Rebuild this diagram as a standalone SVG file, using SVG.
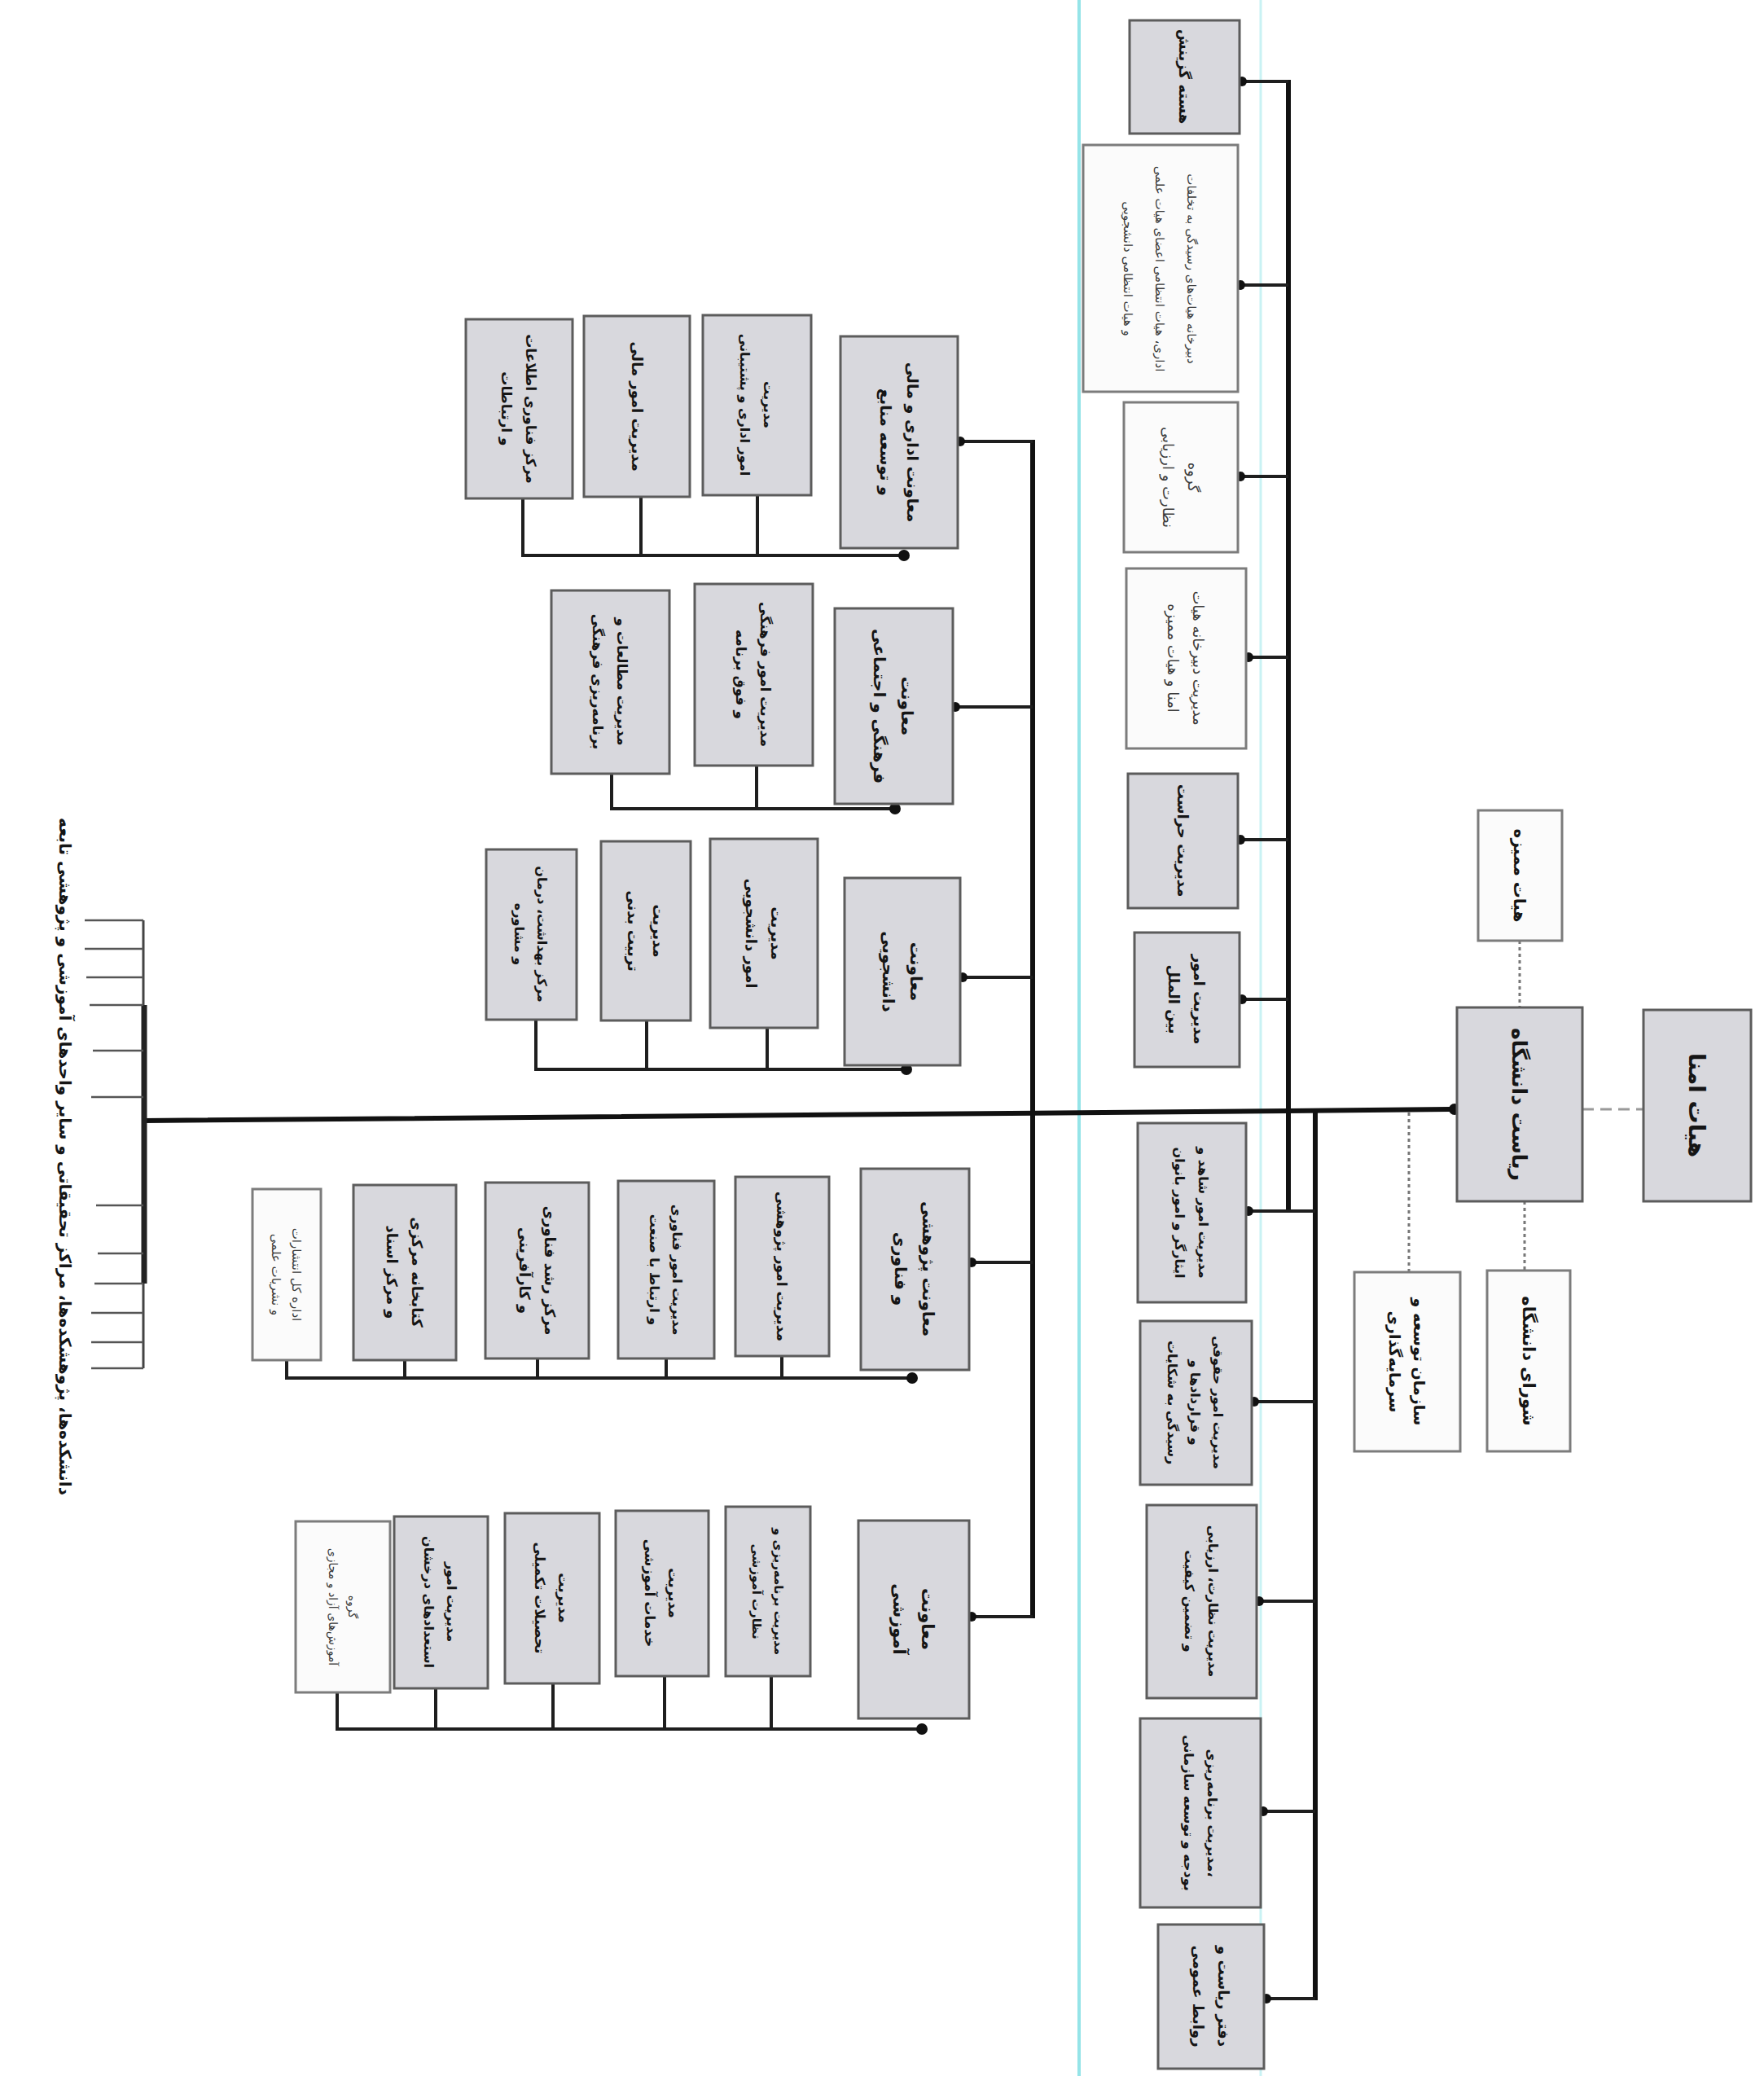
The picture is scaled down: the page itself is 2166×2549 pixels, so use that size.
<svg xmlns="http://www.w3.org/2000/svg" width="2166" height="2549" viewBox="0 0 2166 2549">
<style>
.g{fill:#d8d8dd;stroke:#5c5c5c;stroke-width:3}
.w{fill:#fbfbfb;stroke:#7c7c7c;stroke-width:3}
.c{stroke:#1e1e1e;stroke-width:4;fill:none}
.cm{stroke:#111;stroke-width:6;fill:none}
.tk{stroke:#555;stroke-width:2.5;fill:none}
.dt{stroke:#777;stroke-width:3;stroke-dasharray:4 4;fill:none}
.ds{stroke:#999;stroke-width:3;stroke-dasharray:14 8;fill:none}
.d{fill:#111}
.t{font-family:"DejaVu Sans",sans-serif;font-weight:bold;fill:#151515;text-anchor:middle}
.l{font-weight:normal;fill:#3c3c3c}
</style>
<rect x="0" y="0" width="2166" height="2549" fill="#ffffff"/>
<line x1="1325" y1="0" x2="1325" y2="2549" stroke="#95e4e8" stroke-width="4"/>
<line x1="1548" y1="0" x2="1548" y2="2549" stroke="#c9f2f4" stroke-width="3"/>

<g id="connectors">
  <line class="ds" x1="1943" y1="1362" x2="2018" y2="1362"/>
  <line class="dt" x1="1866" y1="1155" x2="1866" y2="1237"/>
  <line class="dt" x1="1872" y1="1475" x2="1872" y2="1560"/>
  <line class="dt" x1="1730" y1="1366" x2="1730" y2="1562"/>
  <polyline class="cm" points="1789,1362 1582,1364 176,1376"/>
  <circle class="d" cx="1786" cy="1362" r="7"/>
  <line class="cm" x1="1582" y1="98" x2="1582" y2="1489"/>
  <line class="cm" x1="1615" y1="1364" x2="1615" y2="2456"/>
  <g class="c">
    <line x1="1522" y1="100" x2="1582" y2="100"/>
    <line x1="1520" y1="350" x2="1582" y2="350"/>
    <line x1="1520" y1="585" x2="1582" y2="585"/>
    <line x1="1530" y1="807" x2="1582" y2="807"/>
    <line x1="1520" y1="1031" x2="1582" y2="1031"/>
    <line x1="1522" y1="1227" x2="1582" y2="1227"/>
    <line x1="1530" y1="1487" x2="1615" y2="1487"/>
    <line x1="1537" y1="1721" x2="1615" y2="1721"/>
    <line x1="1543" y1="1966" x2="1615" y2="1966"/>
    <line x1="1548" y1="2224" x2="1615" y2="2224"/>
    <line x1="1552" y1="2454" x2="1615" y2="2454"/>
  </g>
  <g class="d">
    <circle cx="1525" cy="100" r="6"/><circle cx="1523" cy="350" r="6"/><circle cx="1523" cy="585" r="6"/>
    <circle cx="1533" cy="807" r="6"/><circle cx="1523" cy="1031" r="6"/><circle cx="1525" cy="1227" r="6"/>
    <circle cx="1533" cy="1487" r="6"/><circle cx="1540" cy="1721" r="6"/><circle cx="1546" cy="1966" r="6"/>
    <circle cx="1551" cy="2224" r="6"/><circle cx="1555" cy="2454" r="6"/>
  </g>
  <line class="cm" x1="1268" y1="540" x2="1268" y2="1987"/>
  <g class="c">
    <line x1="1176" y1="542" x2="1268" y2="542"/>
    <line x1="1170" y1="868" x2="1268" y2="868"/>
    <line x1="1179" y1="1200" x2="1268" y2="1200"/>
    <line x1="1190" y1="1550" x2="1268" y2="1550"/>
    <line x1="1190" y1="1985" x2="1268" y2="1985"/>
    <polyline points="642,612 642,682 1110,682"/>
    <line x1="787" y1="610" x2="787" y2="682"/>
    <line x1="930" y1="608" x2="930" y2="682"/>
    <polyline points="751,950 751,993 1099,993"/>
    <line x1="929" y1="940" x2="929" y2="993"/>
    <polyline points="658,1252 658,1313 1113,1313"/>
    <line x1="794" y1="1253" x2="794" y2="1313"/>
    <line x1="942" y1="1262" x2="942" y2="1313"/>
    <polyline points="352,1670 352,1692 1120,1692"/>
    <line x1="497" y1="1670" x2="497" y2="1692"/>
    <line x1="660" y1="1668" x2="660" y2="1692"/>
    <line x1="818" y1="1668" x2="818" y2="1692"/>
    <line x1="960" y1="1665" x2="960" y2="1692"/>
    <polyline points="414,2078 414,2123 1132,2123"/>
    <line x1="535" y1="2073" x2="535" y2="2123"/>
    <line x1="679" y1="2067" x2="679" y2="2123"/>
    <line x1="816" y1="2058" x2="816" y2="2123"/>
    <line x1="947" y1="2058" x2="947" y2="2123"/>
  </g>
  <g class="d">
    <circle cx="1179" cy="542" r="6"/><circle cx="1173" cy="868" r="6"/><circle cx="1182" cy="1200" r="6"/>
    <circle cx="1193" cy="1550" r="6"/><circle cx="1193" cy="1985" r="6"/>
    <circle cx="1110" cy="682" r="7"/><circle cx="1099" cy="993" r="7"/><circle cx="1113" cy="1313" r="7"/>
    <circle cx="1120" cy="1692" r="7"/><circle cx="1132" cy="2123" r="7"/>
  </g>
  <line x1="176" y1="1130" x2="176" y2="1680" stroke="#444" stroke-width="3"/>
  <line x1="177" y1="1234" x2="177" y2="1576" stroke="#222" stroke-width="7"/>
  <g class="tk">
    <line x1="104" y1="1130" x2="176" y2="1130"/>
    <line x1="104" y1="1165" x2="176" y2="1165"/>
    <line x1="106" y1="1200" x2="176" y2="1200"/>
    <line x1="110" y1="1234" x2="176" y2="1234"/>
    <line x1="114" y1="1290" x2="176" y2="1290"/>
    <line x1="112" y1="1347" x2="176" y2="1347"/>
    <line x1="118" y1="1480" x2="176" y2="1480"/>
    <line x1="120" y1="1539" x2="176" y2="1539"/>
    <line x1="116" y1="1576" x2="176" y2="1576"/>
    <line x1="112" y1="1612" x2="176" y2="1612"/>
    <line x1="112" y1="1648" x2="176" y2="1648"/>
    <line x1="112" y1="1680" x2="176" y2="1680"/>
  </g>
</g>

<g id="title">
  <text class="t" font-size="20" transform="translate(80,1420) rotate(90)" y="7">دانشکده‌ها، پژوهشکده‌ها، مراکز تحقیقاتی و سایر واحدهای آموزشی و پژوهشی تابعه</text>
</g>

<g id="n-omana"><rect class="g" x="2018" y="1240" width="132" height="235"/>
  <text class="t" font-size="28" transform="translate(2084,1357) rotate(90)" y="10">هیات امنا</text></g>
<g id="n-riasat"><rect class="g" x="1789" y="1237" width="154" height="238"/>
  <text class="t" font-size="25" transform="translate(1866,1356) rotate(90)" y="9">ریاست دانشگاه</text></g>
<g id="n-momayeze"><rect class="w" x="1815" y="995" width="103" height="160"/>
  <text class="t" font-size="20" transform="translate(1866,1075) rotate(90)" y="7">هیات ممیزه</text></g>
<g id="n-shora"><rect class="w" x="1826" y="1560" width="102" height="222"/>
  <text class="t" font-size="21" transform="translate(1877,1671) rotate(90)" y="7">شورای دانشگاه</text></g>
<g id="n-sazman"><rect class="w" x="1663" y="1562" width="130" height="220"/>
  <text class="t" font-size="19" transform="translate(1728,1672) rotate(90)"><tspan x="0" y="-8">سازمان توسعه و</tspan><tspan x="0" y="22">سرمایه‌گذاری</tspan></text></g>

<g id="r1"><rect class="g" x="1387" y="25" width="135" height="139"/>
  <text class="t" font-size="18" transform="translate(1454,94) rotate(90)" y="6">هسته گزینش</text></g>
<g id="r2"><rect class="w" x="1330" y="178" width="190" height="303"/>
  <text class="t l" font-size="15" transform="translate(1425,330) rotate(90)"><tspan x="0" y="-33">دبیرخانه هیات‌های رسیدگی به تخلفات</tspan><tspan x="0" y="6">اداری، هیات انتظامی اعضای هیات علمی</tspan><tspan x="0" y="45">و هیات انتظامی دانشجویی</tspan></text></g>
<g id="r3"><rect class="w" x="1380" y="494" width="140" height="184"/>
  <text class="t l" font-size="18" transform="translate(1450,586) rotate(90)"><tspan x="0" y="-9">گروه</tspan><tspan x="0" y="22">نظارت و ارزیابی</tspan></text></g>
<g id="r4"><rect class="w" x="1383" y="698" width="147" height="221"/>
  <text class="t l" font-size="18" transform="translate(1456,808) rotate(90)"><tspan x="0" y="-9">مدیریت دبیرخانه هیات</tspan><tspan x="0" y="22">امنا و هیات ممیزه</tspan></text></g>
<g id="r5"><rect class="g" x="1385" y="950" width="135" height="165"/>
  <text class="t" font-size="18" transform="translate(1452,1032) rotate(90)" y="6">مدیریت حراست</text></g>
<g id="r6"><rect class="g" x="1393" y="1145" width="129" height="165"/>
  <text class="t" font-size="18" transform="translate(1457,1227) rotate(90)"><tspan x="0" y="-9">مدیریت امور</tspan><tspan x="0" y="22">بین الملل</tspan></text></g>
<g id="r7"><rect class="g" x="1397" y="1379" width="133" height="220"/>
  <text class="t" font-size="16" transform="translate(1463,1489) rotate(90)"><tspan x="0" y="-9">مدیریت امور شاهد و</tspan><tspan x="0" y="20">ایثارگر و امور بانوان</tspan></text></g>
<g id="r8"><rect class="g" x="1400" y="1622" width="137" height="201"/>
  <text class="t" font-size="16" transform="translate(1468,1722) rotate(90)"><tspan x="0" y="-22">مدیریت امور حقوقی</tspan><tspan x="0" y="6">و قراردادها و</tspan><tspan x="0" y="34">رسیدگی به شکایات</tspan></text></g>
<g id="r9"><rect class="g" x="1408" y="1848" width="135" height="237"/>
  <text class="t" font-size="16" transform="translate(1475,1966) rotate(90)"><tspan x="0" y="-9">مدیریت نظارت، ارزیابی</tspan><tspan x="0" y="20">و تضمین کیفیت</tspan></text></g>
<g id="r10"><rect class="g" x="1400" y="2110" width="148" height="232"/>
  <text class="t" font-size="16" transform="translate(1474,2226) rotate(90)"><tspan x="0" y="-9">مدیریت برنامه‌ریزی،</tspan><tspan x="0" y="20">بودجه و توسعه سازمانی</tspan></text></g>
<g id="r11"><rect class="g" x="1422" y="2363" width="130" height="177"/>
  <text class="t" font-size="18" transform="translate(1487,2451) rotate(90)"><tspan x="0" y="-9">دفتر ریاست و</tspan><tspan x="0" y="22">روابط عمومی</tspan></text></g>

<g id="vc-a"><rect class="g" x="1032" y="413" width="144" height="260"/>
  <text class="t" font-size="19" transform="translate(1104,543) rotate(90)"><tspan x="0" y="-10">معاونت اداری و مالی</tspan><tspan x="0" y="23">و توسعه منابع</tspan></text></g>
<g id="a1"><rect class="g" x="863" y="387" width="133" height="221"/>
  <text class="t" font-size="16" transform="translate(929,497) rotate(90)"><tspan x="0" y="-9">مدیریت</tspan><tspan x="0" y="20">امور اداری و پشتیبانی</tspan></text></g>
<g id="a2"><rect class="g" x="717" y="388" width="130" height="222"/>
  <text class="t" font-size="18" transform="translate(782,499) rotate(90)" y="6">مدیریت امور مالی</text></g>
<g id="a3"><rect class="g" x="572" y="392" width="131" height="220"/>
  <text class="t" font-size="17" transform="translate(637,502) rotate(90)"><tspan x="0" y="-9">مرکز فناوری اطلاعات</tspan><tspan x="0" y="21">و ارتباطات</tspan></text></g>

<g id="vc-b"><rect class="g" x="1025" y="747" width="145" height="240"/>
  <text class="t" font-size="20" transform="translate(1097,867) rotate(90)"><tspan x="0" y="-10">معاونت</tspan><tspan x="0" y="24">فرهنگی و اجتماعی</tspan></text></g>
<g id="b1"><rect class="g" x="853" y="717" width="145" height="223"/>
  <text class="t" font-size="17" transform="translate(925,828) rotate(90)"><tspan x="0" y="-9">مدیریت امور فرهنگی</tspan><tspan x="0" y="21">و فوق برنامه</tspan></text></g>
<g id="b2"><rect class="g" x="677" y="725" width="145" height="225"/>
  <text class="t" font-size="17" transform="translate(749,837) rotate(90)"><tspan x="0" y="-9">مدیریت مطالعات و</tspan><tspan x="0" y="21">برنامه‌ریزی فرهنگی</tspan></text></g>

<g id="vc-c"><rect class="g" x="1037" y="1078" width="142" height="230"/>
  <text class="t" font-size="20" transform="translate(1108,1193) rotate(90)"><tspan x="0" y="-10">معاونت</tspan><tspan x="0" y="24">دانشجویی</tspan></text></g>
<g id="c1"><rect class="g" x="872" y="1030" width="132" height="232"/>
  <text class="t" font-size="18" transform="translate(938,1146) rotate(90)"><tspan x="0" y="-9">مدیریت</tspan><tspan x="0" y="22">امور دانشجویی</tspan></text></g>
<g id="c2"><rect class="g" x="738" y="1033" width="110" height="220"/>
  <text class="t" font-size="18" transform="translate(793,1143) rotate(90)"><tspan x="0" y="-9">مدیریت</tspan><tspan x="0" y="22">تربیت بدنی</tspan></text></g>
<g id="c3"><rect class="g" x="597" y="1043" width="111" height="209"/>
  <text class="t" font-size="16" transform="translate(652,1147) rotate(90)"><tspan x="0" y="-8">مرکز بهداشت، درمان</tspan><tspan x="0" y="20">و مشاوره</tspan></text></g>

<g id="vc-d"><rect class="g" x="1057" y="1435" width="133" height="247"/>
  <text class="t" font-size="20" transform="translate(1123,1558) rotate(90)"><tspan x="0" y="-10">معاونت پژوهشی</tspan><tspan x="0" y="24">و فناوری</tspan></text></g>
<g id="d1"><rect class="g" x="903" y="1445" width="115" height="220"/>
  <text class="t" font-size="17" transform="translate(960,1555) rotate(90)" y="6">مدیریت امور پژوهشی</text></g>
<g id="d2"><rect class="g" x="759" y="1450" width="118" height="218"/>
  <text class="t" font-size="16" transform="translate(818,1559) rotate(90)"><tspan x="0" y="-8">مدیریت امور فناوری</tspan><tspan x="0" y="20">و ارتباط با صنعت</tspan></text></g>
<g id="d3"><rect class="g" x="596" y="1452" width="127" height="216"/>
  <text class="t" font-size="18" transform="translate(660,1560) rotate(90)"><tspan x="0" y="-9">مرکز رشد فناوری</tspan><tspan x="0" y="22">و کارآفرینی</tspan></text></g>
<g id="d4"><rect class="g" x="434" y="1455" width="126" height="215"/>
  <text class="t" font-size="18" transform="translate(497,1562) rotate(90)"><tspan x="0" y="-9">کتابخانه مرکزی</tspan><tspan x="0" y="22">و مرکز اسناد</tspan></text></g>
<g id="d5"><rect class="w" x="310" y="1460" width="84" height="210"/>
  <text class="t l" font-size="15" transform="translate(352,1565) rotate(90)"><tspan x="0" y="-7">اداره کل انتشارات</tspan><tspan x="0" y="18">و نشریات علمی</tspan></text></g>

<g id="vc-e"><rect class="g" x="1054" y="1867" width="136" height="243"/>
  <text class="t" font-size="21" transform="translate(1122,1988) rotate(90)"><tspan x="0" y="-10">معاونت</tspan><tspan x="0" y="25">آموزشی</tspan></text></g>
<g id="e1"><rect class="g" x="891" y="1850" width="104" height="208"/>
  <text class="t" font-size="15" transform="translate(943,1954) rotate(90)"><tspan x="0" y="-8">مدیریت برنامه‌ریزی و</tspan><tspan x="0" y="19">نظارت آموزشی</tspan></text></g>
<g id="e2"><rect class="g" x="756" y="1855" width="114" height="203"/>
  <text class="t" font-size="17" transform="translate(813,1956) rotate(90)"><tspan x="0" y="-8">مدیریت</tspan><tspan x="0" y="21">خدمات آموزشی</tspan></text></g>
<g id="e3"><rect class="g" x="620" y="1858" width="116" height="209"/>
  <text class="t" font-size="17" transform="translate(678,1962) rotate(90)"><tspan x="0" y="-8">مدیریت</tspan><tspan x="0" y="21">تحصیلات تکمیلی</tspan></text></g>
<g id="e4"><rect class="g" x="484" y="1862" width="115" height="211"/>
  <text class="t" font-size="16" transform="translate(541,1967) rotate(90)"><tspan x="0" y="-8">مدیریت امور</tspan><tspan x="0" y="20">استعدادهای درخشان</tspan></text></g>
<g id="e5"><rect class="w" x="363" y="1868" width="116" height="210"/>
  <text class="t l" font-size="14" transform="translate(421,1973) rotate(90)"><tspan x="0" y="-7">گروه</tspan><tspan x="0" y="17">آموزش‌های آزاد و مجازی</tspan></text></g>
</svg>
